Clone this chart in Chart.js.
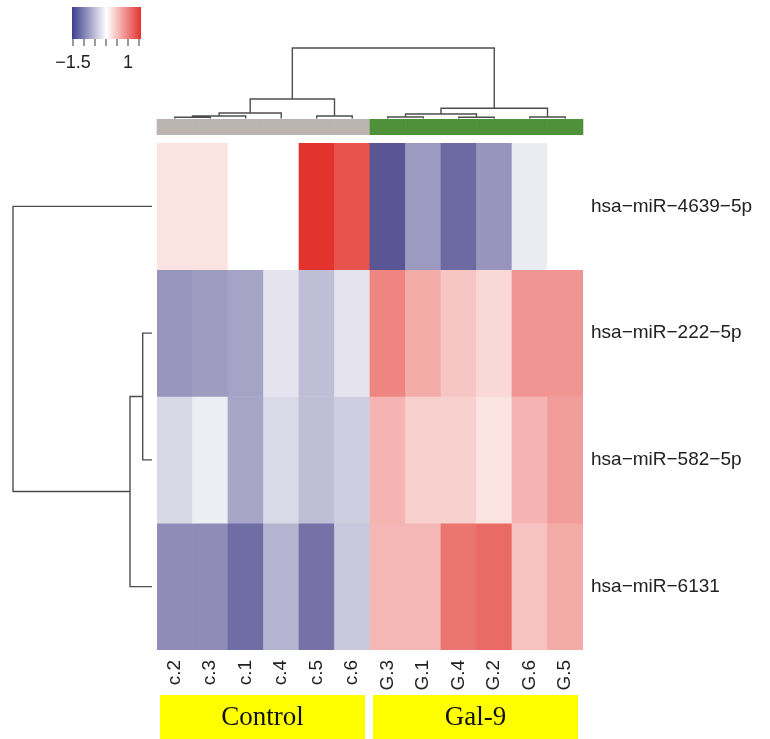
<!DOCTYPE html>
<html>
<head>
<meta charset="utf-8">
<title>miRNA heatmap</title>
<script src="https://cdn.jsdelivr.net/npm/chart.js@4"></script>
<style>
  body { margin: 0; background: #fff; }
  canvas { display: block; }
</style>
</head>
<body>
<canvas id="heatmap" width="770" height="739"></canvas>
<script>
// columns in clustered order
const samples = ["c.2", "c.3", "c.1", "c.4", "c.5", "c.6", "G.3", "G.1", "G.4", "G.2", "G.6", "G.5"];
const sampleGroups = ["Control", "Control", "Control", "Control", "Control", "Control",
                      "Gal-9", "Gal-9", "Gal-9", "Gal-9", "Gal-9", "Gal-9"];
const groupNames = ["Control", "Gal-9"];

// rows in clustered order
const mirnas = ["hsa−miR−4639−5p", "hsa−miR−222−5p", "hsa−miR−582−5p", "hsa−miR−6131"];

// scaled expression (row z-scores)
const mir4639 = [0.21, 0.21, 0, 0, 1.5, 1.28, -1.5, -0.9, -1.33, -0.94, -0.18, 0];
const mir222 = [-0.93, -0.88, -0.82, -0.25, -0.58, -0.25, 0.9, 0.62, 0.42, 0.29, 0.78, 0.78];
const mir582 = [-0.35, -0.16, -0.79, -0.34, -0.58, -0.44, 0.55, 0.35, 0.35, 0.21, 0.55, 0.72];
const mir6131 = [-1.02, -1.02, -1.3, -0.67, -1.25, -0.49, 0.53, 0.53, 1.02, 1.1, 0.44, 0.62];
const values = [mir4639, mir222, mir582, mir6131];

// colour key
const keyTicks = [-1.5, -1, -0.5, 0, 0.5, 1, 1.5];
const keyLabels = [-1.5, 1];

// hclust style merges (negative = leaf, positive = earlier merge) and heights
const colMerge = [[-1, -2], [1, -3], [2, -4], [-5, -6], [3, 4], [-7, -8], [-9, -10], [6, 7], [-11, -12], [8, 9], [5, 10]];
const colHeights = [0.12, 0.25, 0.55, 0.25, 1.95, 0.15, 0.12, 0.45, 0.15, 1.02, 7.05];
const rowMerge = [[-2, -3], [1, -4], [-1, 2]];
const rowHeights = [0.93, 2.2, 13.9];

const lowRGB = [90, 86, 150];
const highRGB = [226, 52, 45];
const groupColors = { "Control": "#bcb4b0", "Gal-9": "#4f9138" };

function cellColor(v) {
  const f = Math.min(1, Math.abs(v) / 1.5);
  const end = v < 0 ? lowRGB : highRGB;
  const c = end.map(e => Math.round(255 + (e - 255) * f));
  return `rgb(${c[0]},${c[1]},${c[2]})`;
}

function drawDendro(ctx, merges, heights, leafPos, base, unit, vertical) {
  const nodes = [];
  const at = ref => ref < 0 ? { p: leafPos[-ref - 1], h: 0 } : nodes[ref - 1];
  const pt = (p, h) => vertical ? [p, base - h * unit] : [base - h * unit, p];
  ctx.beginPath();
  merges.forEach((m, i) => {
    const a = at(m[0]), b = at(m[1]), h = heights[i];
    ctx.moveTo(...pt(a.p, a.h));
    ctx.lineTo(...pt(a.p, h));
    ctx.lineTo(...pt(b.p, h));
    ctx.lineTo(...pt(b.p, b.h));
    nodes.push({ p: (a.p + b.p) / 2, h: h });
  });
  ctx.stroke();
}

const extras = {
  id: "extras",
  afterDraw(chart) {
    const ctx = chart.ctx;
    const ca = chart.chartArea;
    const xs = chart.scales.x, ys = chart.scales.y;
    const colW = xs.getPixelForValue(1) - xs.getPixelForValue(0);
    const colX = samples.map((s, i) => xs.getPixelForValue(i));
    const rowY = mirnas.map((m, i) => ys.getPixelForValue(i + 0.5));
    ctx.save();

    // dendrograms
    ctx.strokeStyle = "#4d4d4d";
    ctx.lineWidth = 1.4;
    drawDendro(ctx, colMerge, colHeights, colX, ca.top - 24.5, 10, true);
    drawDendro(ctx, rowMerge, rowHeights, rowY, ca.left - 5, 10, false);

    // column annotation bar
    samples.forEach((s, i) => {
      ctx.fillStyle = groupColors[sampleGroups[i]];
      ctx.fillRect(colX[i] - colW / 2 - 0.3, ca.top - 24, colW + 0.6, 16);
    });

    // yellow group boxes
    groupNames.forEach(g => {
      const first = sampleGroups.indexOf(g), last = sampleGroups.lastIndexOf(g);
      const x0 = colX[first] - colW / 2 + 3, x1 = colX[last] + colW / 2 - 5;
      ctx.fillStyle = "#ffff00";
      ctx.fillRect(x0, ca.bottom + 45, x1 - x0, chart.height - ca.bottom - 45);
      ctx.fillStyle = "#111";
      ctx.font = "27px 'Liberation Serif', 'Times New Roman', serif";
      ctx.textAlign = "center";
      ctx.textBaseline = "middle";
      ctx.fillText(g, (x0 + x1) / 2, ca.bottom + 68);
    });

    // colour key
    const kx0 = 72, kx1 = 141, ky0 = 7, ky1 = 39;
    const grad = ctx.createLinearGradient(kx0, 0, kx1, 0);
    grad.addColorStop(0, "#3c3f8f");
    grad.addColorStop(0.5, "#ffffff");
    grad.addColorStop(1, "#e33330");
    ctx.fillStyle = grad;
    ctx.fillRect(kx0, ky0, kx1 - kx0, ky1 - ky0);
    const kmin = keyTicks[0], kmax = keyTicks[keyTicks.length - 1];
    const kpos = v => 73 + (v - kmin) / (kmax - kmin) * 66;
    ctx.strokeStyle = "#555";
    ctx.lineWidth = 1.2;
    ctx.beginPath();
    keyTicks.forEach(t => {
      ctx.moveTo(kpos(t), ky1);
      ctx.lineTo(kpos(t), ky1 + 7);
    });
    ctx.stroke();
    ctx.fillStyle = "#222";
    ctx.font = "18px 'Liberation Sans', Arial, sans-serif";
    ctx.textAlign = "center";
    ctx.textBaseline = "middle";
    keyLabels.forEach(t => {
      ctx.fillText(String(t).replace("-", "−"), kpos(t), 63);
    });
    ctx.restore();
  }
};

const datasets = mirnas.map((name, r) => ({
  label: name,
  data: samples.map(() => [r, r + 1]),
  backgroundColor: values[r].map(cellColor),
  borderWidth: 0,
  barPercentage: 1,
  categoryPercentage: 1,
  grouped: false
}));

new Chart(document.getElementById("heatmap"), {
  type: "bar",
  data: { labels: samples, datasets: datasets },
  options: {
    responsive: false,
    animation: false,
    devicePixelRatio: 1,
    layout: { padding: { left: 157, top: 143, right: 0, bottom: 0 } },
    plugins: { legend: { display: false }, tooltip: { enabled: false } },
    scales: {
      x: {
        grid: { display: false, drawTicks: false },
        border: { display: false },
        ticks: {
          autoSkip: false,
          minRotation: 90,
          maxRotation: 90,
          padding: 10,
          color: "#222",
          font: { family: "'Liberation Sans', Arial, sans-serif", size: 19 }
        },
        afterFit(scale) { scale.height = 89; }
      },
      y: {
        position: "right",
        min: 0,
        max: 4,
        reverse: true,
        grid: { display: false, drawTicks: false },
        border: { display: false },
        afterBuildTicks(scale) {
          scale.ticks = mirnas.map((m, i) => ({ value: i + 0.5 }));
        },
        ticks: {
          padding: 8,
          color: "#222",
          font: { family: "'Liberation Sans', Arial, sans-serif", size: 19 },
          callback: v => mirnas[Math.floor(v)]
        },
        afterFit(scale) { scale.width = 187; }
      }
    }
  },
  plugins: [extras]
});
</script>
</body>
</html>
